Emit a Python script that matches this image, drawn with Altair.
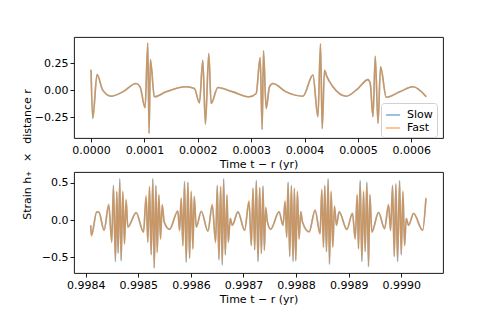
import altair as alt
import pandas as pd

series_names = ["Slow", "Fast"]
series_colors = ["#1f77b4", "#ff7f0e"]

# ---- top panel: early times (yr) and strain x distance ----
top_t = [0.0000000, 0.0000032, 0.0000113, 0.0000219, 0.0000375, 0.0000594, 0.0000844, 0.0000919,
         0.0001013, 0.0001063, 0.0001088, 0.0001112, 0.0001187, 0.0001406, 0.0001781, 0.0001937,
         0.0002031, 0.0002094, 0.0002143, 0.0002206, 0.0002250, 0.0002376, 0.0002657, 0.0002968,
         0.0003094, 0.0003169, 0.0003206, 0.0003231, 0.0003281, 0.0003343, 0.0003407, 0.0003656,
         0.0003969, 0.0004157, 0.0004251, 0.0004299, 0.0004331, 0.0004374, 0.0004415, 0.0004532,
         0.0004781, 0.0005001, 0.0005188, 0.0005231, 0.0005282, 0.0005325, 0.0005376, 0.0005424,
         0.0005531, 0.0005781, 0.0006032, 0.0006281]
top_slow = [0.190, -0.263, 0.144, 0.000, -0.056, -0.016, 0.061, 0.031,
            -0.164, 0.438, -0.402, 0.283, -0.062, -0.016, 0.031, 0.015,
            -0.118, 0.278, -0.315, 0.339, -0.124, 0.024, -0.016, -0.062,
            -0.031, 0.302, -0.365, 0.364, -0.170, 0.031, 0.061, -0.016,
            -0.056, 0.139, -0.247, 0.431, -0.356, 0.185, 0.130, 0.031,
            -0.056, 0.015, 0.098, 0.061, -0.247, 0.315, -0.309, 0.216,
            -0.066, -0.016, 0.031, -0.062]
top_fast = [0.190, -0.263, 0.144, 0.000, -0.056, -0.016, 0.061, 0.031,
            -0.164, 0.438, -0.402, 0.283, -0.062, -0.016, 0.031, 0.015,
            -0.118, 0.278, -0.315, 0.339, -0.124, 0.024, -0.016, -0.062,
            -0.031, 0.302, -0.365, 0.364, -0.170, 0.031, 0.061, -0.016,
            -0.056, 0.139, -0.247, 0.431, -0.356, 0.185, 0.130, 0.031,
            -0.056, 0.015, 0.098, 0.061, -0.247, 0.315, -0.309, 0.216,
            -0.066, -0.016, 0.031, -0.062]

# ---- bottom panel: late times (yr) ----
bot_t = [0.9984095, 0.9984108, 0.9984210, 0.9984254, 0.9984349, 0.9984438, 0.9984495, 0.9984527, 0.9984565, 0.9984591,
         0.9984616, 0.9984648, 0.9984673, 0.9984705, 0.9984737, 0.9984768, 0.9984800, 0.9984959, 0.9985099, 0.9985149,
         0.9985181, 0.9985213, 0.9985245, 0.9985276, 0.9985302, 0.9985334, 0.9985359, 0.9985391, 0.9985422, 0.9985454,
         0.9985492, 0.9985594, 0.9985752, 0.9985784, 0.9985816, 0.9985848, 0.9985879, 0.9985911, 0.9985943, 0.9985975,
         0.9986006, 0.9986038, 0.9986063, 0.9986102, 0.9986197, 0.9986324, 0.9986406, 0.9986470, 0.9986502, 0.9986533,
         0.9986565, 0.9986597, 0.9986622, 0.9986654, 0.9986686, 0.9986711, 0.9986749, 0.9986787, 0.9986895, 0.9987022,
         0.9987105, 0.9987149, 0.9987181, 0.9987213, 0.9987244, 0.9987276, 0.9987308, 0.9987340, 0.9987371, 0.9987397,
         0.9987422, 0.9987454, 0.9987518, 0.9987676, 0.9987752, 0.9987791, 0.9987822, 0.9987848, 0.9987879, 0.9987911,
         0.9987943, 0.9987968, 0.9987994, 0.9988025, 0.9988057, 0.9988089, 0.9988121, 0.9988248, 0.9988362, 0.9988457,
         0.9988489, 0.9988521, 0.9988546, 0.9988578, 0.9988610, 0.9988635, 0.9988667, 0.9988698, 0.9988730, 0.9988768,
         0.9988819, 0.9988965, 0.9989073, 0.9989124, 0.9989162, 0.9989187, 0.9989219, 0.9989251, 0.9989283, 0.9989314,
         0.9989346, 0.9989378, 0.9989403, 0.9989441, 0.9989568, 0.9989683, 0.9989759, 0.9989797, 0.9989835, 0.9989867,
         0.9989898, 0.9989930, 0.9989968, 0.9990000, 0.9990032, 0.9990063, 0.9990095, 0.9990140, 0.9990235, 0.9990406,
         0.9990470]
bot_slow = [-0.068, -0.202, 0.109, 0.100, -0.135, 0.198, -0.291, 0.465, -0.557, 0.376,
            -0.446, 0.554, -0.548, 0.376, -0.313, 0.265, -0.091, 0.100, -0.157, 0.309,
            -0.291, 0.443, -0.468, 0.554, -0.646, 0.465, -0.424, 0.332, -0.246, 0.198,
            -0.024, -0.122, 0.118, -0.135, 0.287, -0.335, 0.518, -0.566, 0.509, -0.513,
            0.376, -0.380, 0.309, -0.091, 0.118, -0.148, 0.198, -0.291, 0.465, -0.535,
            0.443, -0.602, 0.554, -0.468, 0.332, -0.291, 0.020, -0.068, 0.109, -0.135,
            0.243, -0.335, 0.420, -0.402, 0.532, -0.557, 0.430, -0.450, 0.460, -0.400,
            0.160, -0.020, -0.122, 0.109, -0.068, 0.243, -0.224, 0.509, -0.491, 0.465,
            -0.557, 0.420, -0.548, 0.376, -0.246, 0.109, -0.024, -0.157, 0.132, -0.180,
            0.398, -0.357, 0.465, -0.424, 0.554, -0.593, 0.376, -0.357, 0.176, -0.068,
            0.109, -0.122, 0.087, -0.246, 0.332, -0.380, 0.532, -0.557, 0.376, -0.424,
            0.509, -0.624, 0.332, -0.157, 0.100, -0.113, 0.198, -0.135, 0.465, -0.491,
            0.487, -0.557, 0.532, -0.468, 0.376, -0.335, 0.020, -0.068, 0.087, -0.135,
            0.287]
bot_fast = [-0.075, -0.215, 0.112, 0.104, -0.140, 0.215, -0.300, 0.440, -0.520, 0.390,
            -0.430, 0.510, -0.520, 0.390, -0.325, 0.280, -0.095, 0.098, -0.165, 0.330,
            -0.300, 0.455, -0.450, 0.530, -0.625, 0.450, -0.440, 0.345, -0.260, 0.210,
            -0.030, -0.125, 0.125, -0.145, 0.300, -0.350, 0.490, -0.540, 0.495, -0.500,
            0.390, -0.395, 0.320, -0.095, 0.115, -0.150, 0.215, -0.305, 0.450, -0.515,
            0.455, -0.570, 0.525, -0.455, 0.345, -0.300, 0.025, -0.070, 0.112, -0.140,
            0.260, -0.345, 0.430, -0.390, 0.505, -0.535, 0.440, -0.435, 0.440, -0.410,
            0.175, -0.025, -0.125, 0.112, -0.072, 0.260, -0.235, 0.485, -0.470, 0.450,
            -0.530, 0.430, -0.530, 0.390, -0.260, 0.115, -0.028, -0.160, 0.135, -0.190,
            0.415, -0.370, 0.450, -0.410, 0.525, -0.565, 0.390, -0.365, 0.190, -0.072,
            0.112, -0.128, 0.095, -0.260, 0.345, -0.390, 0.505, -0.530, 0.390, -0.410,
            0.485, -0.600, 0.345, -0.165, 0.104, -0.118, 0.215, -0.145, 0.450, -0.470,
            0.470, -0.535, 0.510, -0.450, 0.390, -0.345, 0.025, -0.072, 0.090, -0.140,
            0.300]

top_xticks = [0.0, 0.0001, 0.0002, 0.0003, 0.0004, 0.0005, 0.0006]
top_yticks = [-0.25, 0.0, 0.25]
bot_xticks = [0.9984, 0.9985, 0.9986, 0.9987, 0.9988, 0.9989, 0.9990]
bot_yticks = [-0.5, 0.0, 0.5]

x_title = "Time t \u2212 r (yr)"
y_title = "Strain h\u208a\u2002 \u00d7 \u2002distance r"


def make_df(t, slow, fast):
    n = len(t)
    assert len(slow) == n and len(fast) == n
    return pd.DataFrame({
        "t": list(t) + list(t),
        "v": list(slow) + list(fast),
        "series": ["Slow"] * n + ["Fast"] * n,
    })


def panel(df, xdom, xticks, xfmt, ydom, yaxis, legend):
    color = alt.Color("series:N",
                      scale=alt.Scale(domain=series_names, range=series_colors),
                      legend=legend)
    base = alt.Chart(df).mark_line(strokeWidth=1.6, opacity=0.55, interpolate="monotone").encode(
        x=alt.X("t:Q", scale=alt.Scale(domain=xdom, nice=False, zero=False),
                axis=alt.Axis(values=xticks, format=xfmt, title=x_title)),
        y=alt.Y("v:Q", scale=alt.Scale(domain=ydom, nice=False, zero=False), axis=yaxis),
        color=color,
    )
    slow = base.transform_filter(alt.datum.series == "Slow")
    fast = base.transform_filter(alt.datum.series == "Fast")
    return alt.layer(slow, fast).properties(width=369, height=101)


legend = alt.Legend(orient="none", legendX=307, legendY=66, title=None,
                    symbolType="stroke", symbolStrokeWidth=1.6, symbolOpacity=0.55,
                    symbolSize=200, labelFontSize=11, labelColor="black",
                    fillColor="white", strokeColor="#d0d0d0", cornerRadius=3,
                    padding=4, rowPadding=-3, labelOffset=6)

top = panel(make_df(top_t, top_slow, top_fast),
            [-0.0000319, 0.0006594], top_xticks, ".4f",
            [-0.444, 0.493],
            alt.Axis(values=top_yticks, format=".2f", title=y_title,
                     titleX=-47, titleY=117, titleAlign="center", titleBaseline="middle"),
            legend)
bottom = panel(make_df(bot_t, bot_slow, bot_fast),
               [0.9983777, 0.9990794], bot_xticks, ".4f",
               [-0.708, 0.643],
               alt.Axis(values=bot_yticks, format=".1f", title=None),
               None)

chart = alt.vconcat(top, bottom, spacing=34, bounds="flush").resolve_legend(
    color="independent"
).properties(
    padding={"left": 12, "top": 28, "right": 5, "bottom": 5}
).configure(
    font="DejaVu Sans",
    background="white",
).configure_view(
    stroke="black", strokeWidth=0.9
).configure_axis(
    domain=False, grid=False, ticks=True, tickSize=4, tickWidth=0.9, tickColor="black",
    labelColor="black", labelFontSize=11, labelPadding=2, labelFlush=False,
    titleColor="black", titleFontSize=11, titleFontWeight="normal", titlePadding=3,
)

chart.save("out.html", embed_options={"renderer": "svg", "actions": False})
